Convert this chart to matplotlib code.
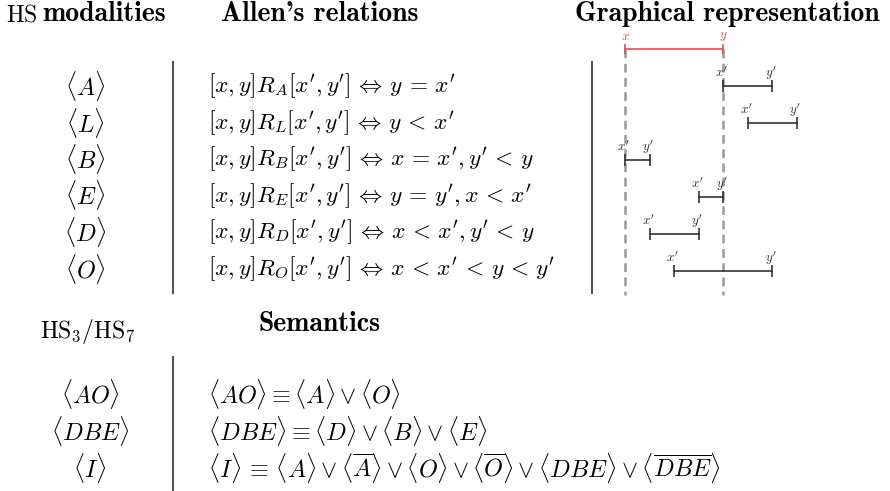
import matplotlib
matplotlib.use('Agg')
import matplotlib.pyplot as plt

plt.rcParams['mathtext.fontset'] = 'cm'

# Данные таблицы
modalities = [r'$\langle A\rangle$', r'$\langle L\rangle$', r'$\langle B\rangle$',
              r'$\langle E\rangle$', r'$\langle D\rangle$', r'$\langle O\rangle$']
relations = [
    r"$[x,y]R_A[x',y'] \,\Leftrightarrow\, y \,=\, x'$",
    r"$[x,y]R_L[x',y'] \,\Leftrightarrow\, y \,<\, x'$",
    r"$[x,y]R_B[x',y'] \,\Leftrightarrow\, x \,=\, x', y' \,<\, y$",
    r"$[x,y]R_E[x',y'] \,\Leftrightarrow\, y \,=\, y', x \,<\, x'$",
    r"$[x,y]R_D[x',y'] \,\Leftrightarrow\, x \,<\, x', y' \,<\, y$",
    r"$[x,y]R_O[x',y'] \,\Leftrightarrow\, x \,<\, x' \,<\, y \,<\, y'$",
]
# интервалы [x', y'] относительно опорного [x, y] = [0, 4]
ref_interval = (0, 4)
starts = [4, 5, 0, 3, 1, 2]
ends = [6, 7, 1, 4, 3, 6]

hs_modalities = [r'$\langle AO\rangle$', r'$\langle DBE\rangle$', r'$\langle I\rangle$']
semantics = [
    r'$\langle AO\rangle \equiv \langle A\rangle \vee \langle O\rangle$',
    r'$\langle DBE\rangle \equiv \langle D\rangle \vee \langle B\rangle \vee \langle E\rangle$',
    r'$\langle I\rangle \,\equiv\, \langle A\rangle \vee \langle\overline{A}\rangle \vee \langle O\rangle'
    r' \vee \langle\overline{O}\rangle \vee \langle DBE\rangle \vee \langle\overline{DBE}\rangle$',
]

FS = 17.4     # формулы
FR = 16.9     # отношения Аллена
FB = 20       # жирные заголовки
fig = plt.figure(figsize=(8.9, 4.91), dpi=100)
ax = fig.add_axes([0, 0, 1, 1])
ax.set_xlim(0, 890)
ax.set_ylim(491, 0)
ax.axis('off')

# Заголовки
ax.text(6, 14, r'$\mathrm{HS}$', fontsize=17, va='center', ha='left')
ax.text(42, 14, 'modalities', fontsize=FB, va='center', ha='left', family='cmb10')
ax.text(221, 14, "Allen's relations", fontsize=FB, va='center', ha='left', family='cmb10')
ax.text(575, 14, 'Graphical representation', fontsize=FB, va='center', ha='left', family='cmb10')

for i, (m, r) in enumerate(zip(modalities, relations)):
    y = 86 + 36.5 * i
    ax.text(85, y, m, fontsize=FS, va='center', ha='center')
    ax.text(208, y, r, fontsize=FR, va='center', ha='left')

ax.plot([173, 173], [62, 293], color='#555555', lw=1.5)
ax.plot([592, 592], [62, 293], color='#555555', lw=1.5)

ax.text(88, 331, r'$\mathrm{HS}_3/\mathrm{HS}_7$', fontsize=17, va='center', ha='center')
ax.text(259, 324, 'Semantics', fontsize=FB, va='center', ha='left', family='cmb10')
ax.plot([173, 173], [357, 491], color='#555555', lw=1.5)

for i, (m, s) in enumerate(zip(hs_modalities, semantics)):
    y = 394 + 37 * i
    ax.text(90, y, m, fontsize=FS, va='center', ha='center')
    ax.text(208, y, s, fontsize=FS, va='center', ha='left')

# Графическое представление
gx = fig.add_axes([600.5 / 890, 1 - 317.25 / 491, 245 / 890, 286.75 / 491])
gx.set_xlim(-1, 9)
gx.set_ylim(7.25, -0.5)
gx.axis('off')

gx.vlines(list(ref_interval), 0, 6.65, colors='#999999', lw=1.8,
          linestyles=(0, (3.5, 2.2)))
gx.plot(ref_interval, [0, 0], color='#e05050', lw=1.2, marker='|', ms=7, mew=1.2)
for v, lab in zip(ref_interval, ['x', 'y']):
    gx.annotate(f'${lab}$', (v, 0), xytext=(0, 9), textcoords='offset points',
                ha='center', va='center', fontsize=9.5, color='#e05050')

for i, (s, e) in enumerate(zip(starts, ends)):
    row = i + 1
    gx.plot([s, e], [row, row], color='#333333', lw=1.2, marker='|', ms=9, mew=1.2)
    gx.annotate(r"$x'$", (s, row), xytext=(-1, 9.5), textcoords='offset points',
                ha='center', va='center', fontsize=9.5, color='#333333')
    gx.annotate(r"$y'$", (e, row), xytext=(-1, 9.5), textcoords='offset points',
                ha='center', va='center', fontsize=9.5, color='#333333')

plt.savefig('out.png', dpi=100)
